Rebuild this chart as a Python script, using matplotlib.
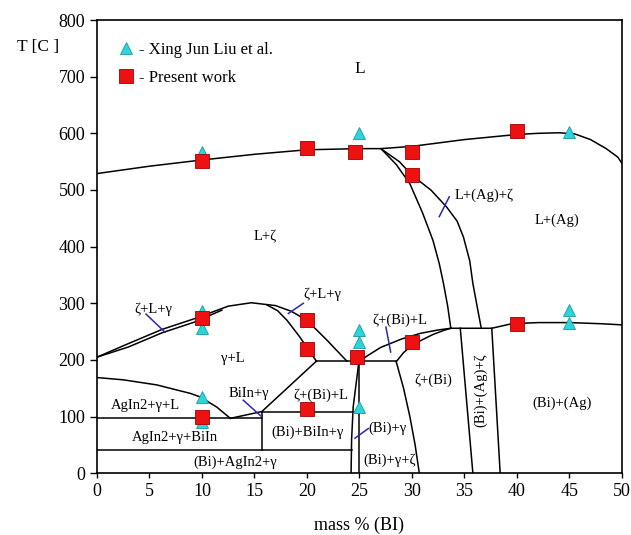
import matplotlib
matplotlib.use('Agg')
import matplotlib.pyplot as plt

plt.rcParams['font.family'] = ['Liberation Serif', 'DejaVu Serif']

# Phase boundaries: (mass % Bi, T in C)
liq_x = [0, 5, 10, 15, 20, 25, 27, 30, 35, 40, 42, 44, 45.5, 47, 48.5, 49.6, 50]
liq_t = [529, 542, 553, 563, 571, 573, 573, 577, 589, 598, 600, 601, 599, 589, 573, 558, 547]

agz_left_x = [27.1, 28.5, 29.8, 31.0, 32.0, 32.6, 33.0, 33.4, 33.7]
agz_left_t = [572, 545, 511, 460, 411, 370, 335, 295, 256]
agz_right_x = [27.1, 28.8, 30.0, 31.8, 33.3, 34.3, 34.9, 35.5, 35.8, 36.2, 36.6]
agz_right_t = [572, 550, 526, 500, 470, 445, 417, 375, 335, 295, 256]

zlg_upper_x = [0, 3.0, 6.2, 9.3, 12.5, 14.7, 17.0, 18.5, 20.0, 21.9, 23.8]
zlg_upper_t = [205, 229, 254, 273, 295, 301, 296, 286, 270, 235, 198]
zlg_lower_x = [0, 3.0, 6.2, 9.3, 11.9]
zlg_lower_t = [205, 223, 248, 267, 288]
gl_inner_x = [16.2, 17.2, 18.1, 19.3, 20.0, 20.4, 20.9]
gl_inner_t = [297, 287, 270, 241, 222, 211, 198]

agin_x = [0, 2.5, 5.7, 8.9, 9.8, 11.4, 12.7]
agin_t = [169, 165, 156, 141, 135, 117, 97]
biin_x = [12.7, 14.2, 15.7, 20.9]
biin_t = [97, 103, 109, 198]

zbl_upper_x = [24.95, 27, 29, 30.8, 32.5, 33.7]
zbl_upper_t = [198, 222, 237, 247, 253, 256]
zbl_lower_x = [28.5, 29.2, 30.0, 30.8, 32.0, 33.0, 33.7]
zbl_lower_t = [197, 213, 226, 234, 245, 252, 256]

ag_x = [33.7, 37.6, 39.5, 42, 45, 48, 50]
ag_t = [256, 256, 264, 266, 266, 264, 262]

bi_slant_x = [24.2, 24.25, 24.4, 24.95]
bi_slant_t = [0, 60, 117, 198]
zbi_x = [28.5, 29.2, 29.8, 30.3, 30.7]
zbi_t = [197, 150, 100, 50, 0]

# straight segments: (x0, x1, t0, t1)
segments = [
    (20.9, 28.5, 198, 198),
    (0, 15.7, 97, 97),
    (15.7, 24.6, 109, 109),
    (0, 24.3, 41, 41),
    (15.7, 15.7, 41, 109),
    (25.0, 25.0, 0, 198),
    (34.6, 35.8, 256, 0),
    (37.6, 38.4, 256, 0),
]

# Experimental points
liu_x = [10, 10, 10, 10, 10, 25, 25, 25, 25, 45, 45, 45]
liu_t = [567, 286, 256, 134, 91, 600, 253, 231, 117.5, 602, 289, 264.5]
present_x = [10, 20, 24.6, 30, 30, 40, 10, 20, 20, 24.8, 30, 40, 10, 20]
present_t = [552, 574, 567, 567, 526, 604, 274, 271, 220, 206, 231, 264, 100, 113]

# Region labels: (text, x, T, rotation)
regions = [
    ("L", 25.0, 713, 0),
    ("L+ζ", 16.0, 417, 0),
    ("L+(Ag)", 43.8, 447, 0),
    ("ζ+L+γ", 5.4, 289, 0),
    ("ζ+L+γ", 21.5, 316, 0),
    ("γ+L", 12.9, 203, 0),
    ("AgIn2+γ+L", 4.6, 120, 0),
    ("BiIn+γ", 14.5, 141, 0),
    ("ζ+(Bi)+L", 21.3, 138, 0),
    ("AgIn2+γ+BiIn", 7.4, 64, 0),
    ("(Bi)+BiIn+γ", 20.1, 73, 0),
    ("(Bi)+AgIn2+γ", 13.2, 20, 0),
    ("ζ+(Bi)+L", 28.8, 270, 0),
    ("(Bi)+γ", 27.7, 80, 0),
    ("(Bi)+γ+ζ", 27.9, 23, 0),
    ("ζ+(Bi)", 32.0, 164, 0),
    ("(Bi)+(Ag)+ζ", 36.5, 147, 90),
    ("(Bi)+(Ag)", 44.3, 123, 0),
]

# Leader lines: (x0, x1, t0, t1)
leaders = [
    (4.67, 6.48, 281, 249),
    (19.65, 18.22, 300, 282),
    (13.93, 15.68, 129, 100),
    (27.52, 27.97, 258, 214),
    (24.57, 25.84, 62, 79),
    (33.55, 32.6, 488, 453),
]

fig = plt.figure(figsize=(6.31, 5.35), dpi=100)
ax = fig.add_axes([0.1537, 0.1153, 0.832, 0.8473])

lw = 1.1
curves = [(liq_x, liq_t), (agz_left_x, agz_left_t), (agz_right_x, agz_right_t),
          (zlg_upper_x, zlg_upper_t), (zlg_lower_x, zlg_lower_t),
          (gl_inner_x, gl_inner_t), (agin_x, agin_t), (biin_x, biin_t),
          (zbl_upper_x, zbl_upper_t), (zbl_lower_x, zbl_lower_t),
          (ag_x, ag_t), (bi_slant_x, bi_slant_t), (zbi_x, zbi_t)]
for cx, ct in curves:
    ax.plot(cx, ct, color='black', lw=lw, zorder=2)
for x0, x1, t0, t1 in segments:
    ax.plot([x0, x1], [t0, t1], color='black', lw=lw, zorder=2)
for x0, x1, t0, t1 in leaders:
    ax.plot([x0, x1], [t0, t1], color='#2a2ab0', lw=1.1, zorder=2)

for text, x, t, rot in regions:
    size = 12.5 if text == "L" else 10.5
    ax.text(x, t, text, ha='center', va='center', rotation=rot,
            fontsize=size, zorder=3)
ax.text(34.1, 490, "L+(Ag)+ζ", ha='left', va='center', fontsize=10.5)

ax.plot(liu_x, liu_t, linestyle='none', marker='^', ms=9,
        mfc='#2ad6dc', mec='#1a9aa0', mew=0.6, zorder=4,
        label='- Xing Jun Liu et al.')
ax.plot(present_x, present_t, linestyle='none', marker='s', ms=10,
        mfc='#ee1111', mec='#a00000', mew=0.6, zorder=5,
        label='- Present work')

ax.legend(loc='upper left', bbox_to_anchor=(0.01, 0.985), frameon=False,
          fontsize=12, handlelength=1.0, handletextpad=0.3,
          labelspacing=0.75, numpoints=1)

ax.set_xlim(0, 50)
ax.set_ylim(0, 800)
ax.set_xticks(range(0, 51, 5))
ax.set_yticks(range(0, 801, 100))
ax.tick_params(axis='both', labelsize=13, direction='out', width=1.0)
ax.tick_params(axis='y', length=5)
ax.tick_params(axis='x', length=3.5)
for sp in ax.spines.values():
    sp.set_linewidth(1.2)

ax.set_xlabel('mass % (BI)', fontsize=13, labelpad=12)
fig.text(38 / 631, 1 - 47 / 535, 'T [C ]', fontsize=12.5,
         ha='center', va='center')

fig.savefig('out.png', dpi=100)
